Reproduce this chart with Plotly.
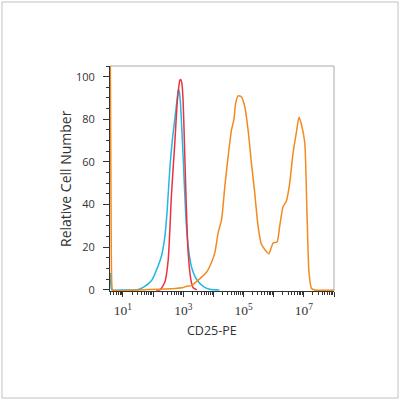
import plotly.graph_objects as go

# log10(CD25-PE intensity) and relative cell number for each histogram
red_log = [2.10, 2.225, 2.39, 2.50, 2.61, 2.72, 2.80, 2.85, 2.887, 2.92, 2.954, 2.99, 3.02, 3.086, 3.16, 3.25, 3.33, 3.45]
red_y   = [0.0, 0.0, 3.7, 14, 45, 69, 88, 95, 98.3, 98.6, 97, 90, 78, 46, 18, 5, 1, 0]

cyan_log = [0.575, 0.60, 0.63, 1.0, 1.45, 1.67, 1.95, 2.17, 2.28, 2.39, 2.47, 2.56, 2.65, 2.72, 2.80, 2.84,
            2.87, 2.91, 3.0, 3.09, 3.16, 3.27, 3.44, 3.66, 3.88, 4.2]
cyan_y   = [8, 2, 0, 0, 0, 1.2, 4.4, 11.4, 16, 25, 38, 58, 72, 80, 90, 94,
            93, 87, 61, 33, 21, 11, 5, 1.7, 0.3, 0]

orange_log = [0.575, 0.60, 0.63, 0.66, 1.5, 2.61, 3.0, 3.11, 3.27, 3.44, 3.60, 3.77, 3.94, 4.05, 4.16, 4.27,
              4.38, 4.49, 4.60, 4.68, 4.74, 4.82, 4.93, 5.04, 5.15, 5.26, 5.37, 5.48, 5.59, 5.70,
              5.84, 5.98, 6.11, 6.20, 6.31, 6.42, 6.53, 6.64, 6.75, 6.84, 6.92, 7.03, 7.10, 7.17,
              7.25, 7.35, 8.0]
orange_y   = [130, 50, 3, 0, 0, 0.5, 1.1, 1.7, 2, 3.9, 5.9, 8.3, 13, 17.6, 27, 33,
              48.7, 62.8, 75, 80, 87.7, 91, 90.5, 86, 75, 59.7, 45.6, 30, 21.5, 19,
              17, 22, 22.5, 30, 39, 41.7, 50, 64, 73.7, 81, 77.6, 69, 38, 8.3,
              0.8, 0, 0]

x_major_exps = [1, 2, 3, 4, 5, 6, 7, 8]
x_label_exps = [1, 3, 5, 7]
y_ticks = [0, 20, 40, 60, 80, 100]
x_title = "CD25-PE"
y_title = "Relative Cell Number"

x_tickvals = [10 ** e for e in x_major_exps]
x_ticktext = ["10<sup>%d</sup>" % e if e in x_label_exps else "" for e in x_major_exps]
x_minor = [m * 10 ** e for e in range(0, 9) for m in range(2, 10)]

fig = go.Figure()
for lg, yv, col in [(cyan_log, cyan_y, "#22b8e2"),
                    (red_log, red_y, "#ea3340"),
                    (orange_log, orange_y, "#f28a1e")]:
    fig.add_trace(go.Scatter(x=[10 ** v for v in lg], y=yv, mode="lines",
                             line=dict(color=col, width=1.5, shape="spline", smoothing=0.6),
                             showlegend=False, hoverinfo="skip"))

fig.update_layout(
    width=400, height=400,
    margin=dict(l=110, r=66, t=66, b=109),
    paper_bgcolor="white", plot_bgcolor="white",
    font=dict(family="Open Sans", color="#333"),
    xaxis=dict(type="log", range=[0.57, 8.0], showgrid=False, zeroline=False,
               showline=True, linecolor="#333", linewidth=1,
               tickmode="array", tickvals=x_tickvals, ticktext=x_ticktext,
               ticks="outside", ticklen=5, tickcolor="#333", ticklabelstandoff=2,
               tickfont=dict(family="Liberation Serif", size=13.5, color="#333"),
               minor=dict(tickvals=x_minor, ticks="outside", ticklen=3, tickcolor="#333")),
    yaxis=dict(range=[-0.5, 105], showgrid=False, zeroline=False,
               showline=True, linecolor="#333", linewidth=1,
               tickmode="array", tickvals=y_ticks,
               ticks="outside", ticklen=6, tickcolor="#333", ticklabelstandoff=6,
               tickfont=dict(size=11, color="#333"),
               minor=dict(dtick=5, ticks="outside", ticklen=3, tickcolor="#333")),
)

fig.add_annotation(text=x_title, xref="paper", yref="paper",
                   x=(212 - 110) / 224, y=(291 - 330) / 225,
                   xanchor="center", yanchor="middle", showarrow=False,
                   font=dict(size=12.5, color="#333"))
fig.add_annotation(text=y_title, xref="paper", yref="paper",
                   x=(65 - 110) / 224, y=(291 - 179) / 225, textangle=-90,
                   xanchor="center", yanchor="middle", showarrow=False,
                   font=dict(size=14, color="#333"))

# light top/right frame of the plot area
fig.add_shape(type="line", xref="paper", yref="paper", x0=0, x1=1, y0=1, y1=1,
              line=dict(color="#aaaaaa", width=1))
fig.add_shape(type="line", xref="paper", yref="paper", x0=1, x1=1, y0=0, y1=1,
              line=dict(color="#aaaaaa", width=1))
# outer image border
fig.add_shape(type="rect", xref="paper", yref="paper",
              x0=(2 - 110) / 224, x1=(398 - 110) / 224,
              y0=(291 - 398) / 225, y1=(291 - 2) / 225,
              line=dict(color="#d6d6d6", width=1.5))

fig.write_html("out.html", config={"displayModeBar": False},
               post_script="document.body.style.margin='0';")
